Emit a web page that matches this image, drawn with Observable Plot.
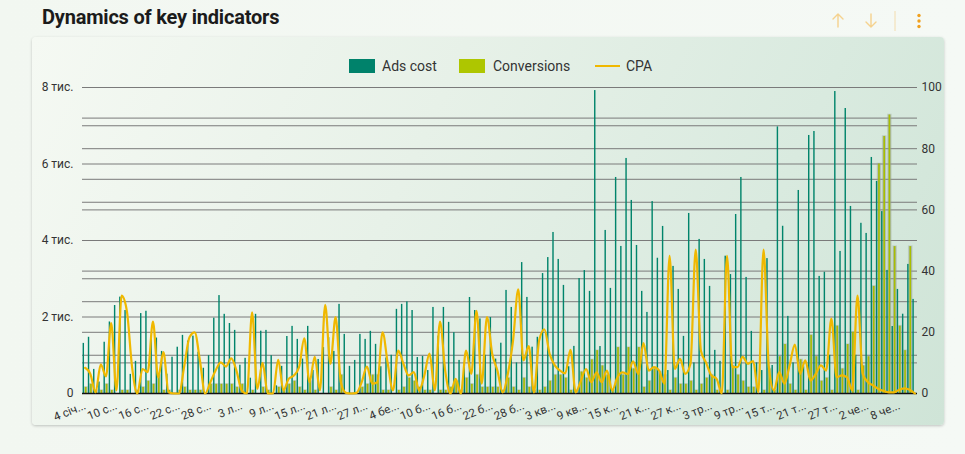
<!DOCTYPE html>
<html><head><meta charset="utf-8">
<script src="https://cdn.jsdelivr.net/npm/d3@7"></script>
<script src="https://cdn.jsdelivr.net/npm/@observablehq/plot@0.6"></script>
<style>
html,body{margin:0;padding:0}
body{width:965px;height:454px;overflow:hidden;position:relative;background:linear-gradient(90deg,#f2f7f1,#f5f9f5);font-family:Roboto,"Noto Sans",sans-serif}
#title{position:absolute;left:42px;top:5px;font-size:20px;font-weight:700;color:#1b1b1b;letter-spacing:-0.2px}
#card{position:absolute;left:32px;top:37px;width:912px;height:388px;border-radius:4px;
 background:linear-gradient(115deg,#f5f9f3 0%,#e7f1e8 40%,#d9eadf 75%,#cfe4d7 100%);
 box-shadow:0 1px 3px rgba(0,0,0,0.22)}
#legend{position:absolute;top:59px;left:0;width:965px;height:16px;font-size:14px;color:#333}
.sw{position:absolute;top:0;width:26px;height:14px}
.lt{position:absolute;top:-2px;line-height:18px}
#chart{position:absolute;left:32px;top:77px}
#icons{position:absolute;left:0;top:0}
</style></head>
<body>
<div id="title">Dynamics of key indicators</div>
<svg id="icons" width="965" height="40">
 <g stroke="#f5d28e" stroke-width="1.4" fill="none" stroke-linecap="round">
  <path d="M838 27 V14 M833 19 L838 14 L843 19"/>
  <path d="M871 14 V27 M866 22 L871 27 L876 22"/>
 </g>
 <line x1="895" y1="11" x2="895" y2="31" stroke="#f3dcae" stroke-width="1"/>
 <g fill="#f0a01e"><circle cx="919" cy="15.5" r="1.7"/><circle cx="919" cy="21" r="1.7"/><circle cx="919" cy="26.5" r="1.7"/></g>
</svg>
<div id="card"></div>
<div id="legend">
 <div class="sw" style="left:349px;background:#00826b"></div><div class="lt" style="left:382px">Ads cost</div>
 <div class="sw" style="left:459px;background:#aec600"></div><div class="lt" style="left:493px">Conversions</div>
 <div style="position:absolute;left:595px;top:6px;width:25px;height:2px;background:#f0b800"></div><div class="lt" style="left:626px">CPA</div>
</div>
<div id="chart"></div>
<script>
// Daily values, 4 Jan .. 11 Jun
const adsCost = [1310,1470,630,300,1340,1870,2300,2520,2170,500,840,2090,2150,1500,1450,1100,505,950,1210,1520,
1370,1500,1080,660,990,1970,2560,2070,1830,1650,740,920,400,2070,1630,1650,990,200,710,1490,
1755,1415,900,1755,600,890,1200,1460,1100,2330,1545,710,865,1545,1415,1625,1285,700,930,1000,
2200,2330,2395,2170,940,970,600,2250,1500,2250,1860,1590,865,800,2510,2170,1950,1000,1986,900,
1315,2695,2250,800,3423,2512,1211,1470,3136,3554,4210,3505,2826,700,1232,3005,3214,2670,7920,1228,
4263,2748,5648,3845,6145,5047,3870,2670,2120,5017,3536,4368,600,3323,2721,1493,4707,800,4028,3505,
2800,1128,840,3590,3110,4680,5648,3035,1624,800,600,3527,732,6970,4372,2016,800,5308,700,6746,
6850,3061,3170,1000,7895,3714,7451,4890,1000,4450,4185,6171,5544,4756,3218,1751,2721,2073,3375,2460];
const conversions = [2,3,1,1,3,1,0,1,1,0,1,2,4,3,6,1,1,0,1,2,
1,1,1,0,3,3,3,3,3,2,3,0,1,0,2,1,0,2,1,3,
4,2,1,4,1,0,0,2,1,6,0,0,0,2,3,6,6,1,1,0,
1,2,5,4,2,1,1,0,1,1,2,4,1,5,3,6,2,2,2,2,
1,5,2,1,5,2,1,1,2,4,6,6,5,1,1,7,5,11,14,9,
6,1,15,6,15,8,15,2,4,8,7,6,1,5,3,3,4,1,3,5,
6,1,0,1,9,6,4,2,2,0,1,8,1,12,16,3,1,11,1,19,
12,4,5,1,22,8,16,20,1,9,12,35,75,84,91,48,22,14,48,0];
const cpa = [8.4,6.4,0.4,9.5,5.6,23,1,32,27,8.6,0,8,7,23.5,5.3,13.5,0.4,0,0,9,
18.4,20,10.8,0,3.7,7.5,10.2,8.8,11.5,7.5,1,0,26.5,1.5,10,0,0,11,1,4.8,
5.9,8.6,18,3.7,12,1,29,9.7,25,3.7,0.2,0,0.2,3.7,8.8,3.2,3.7,20,9.7,1,
14,9.7,5.9,7,1,5.9,13,1,23.5,7.5,0,4.8,0,14,6.4,27,3.2,25,13,7.5,
0.4,6.4,17.3,34,10.8,15.5,0.4,17.3,21,13,9.2,7.5,6.6,14.3,0.4,4.2,8,3.7,6.9,3.7,
7.5,1,5.3,6.9,6.4,10.5,6.4,16.5,7.5,8.6,7.5,3.2,45,8,11.3,6.4,9.7,47,14,10,
5.9,4.8,0,45,8.6,8.6,12,9.7,10.6,0.4,47,9,1,7,3.2,9.2,16,6.4,10.8,4.2,
6.4,9.2,7.5,24.5,5.3,5.9,5.3,1,32,6.4,3.7,2.6,1.5,0.8,0.4,0.4,1.2,1.7,1.2,0];
const xTickLabels = ["4 січ...","10 с...","16 с...","22 с...","28 с...","3 л...","9 л...","15 л...","21 л...","27 л...",
"4 бе...","10 б...","16 б...","22 б...","28 б...","3 кв...","9 кв...","15 к...","21 к...","27 к...",
"3 тр...","9 тр...","15 т...","21 т...","27 т...","2 че...","8 че..."];
const leftTicks = [0,2000,4000,6000,8000];
const leftGrid = [1000,2000,3000,4000,5000,6000,7000,8000];
const rightTicks = [0,20,40,60,80,100];
const rightGrid = [10,20,30,40,50,60,70,80,90,100];

const K = 8000/100; // right axis (0..100) drawn on the shared y scale
const days = d3.utcDay.range(new Date(Date.UTC(2024,0,4)), new Date(Date.UTC(2024,5,12)))
  .map(d => d.toISOString().slice(0,10));
const data = days.map((d,i) => ({day:d, cost:adsCost[i], conv:conversions[i], cpa:cpa[i]}));
const tickDays = xTickLabels.map((t,i) => ({day: days[i*6], label: t}));

const chart = Plot.plot({
  width: 912, height: 348,
  marginLeft: 50, marginRight: 27, marginTop: 10, marginBottom: 32,
  style: {background: "transparent", fontFamily: "Roboto, sans-serif", color: "#333", overflow: "visible"},
  x: {type: "band", domain: days, padding: 0, axis: null},
  y: {domain: [0, 8000]},
  marks: [
    Plot.ruleY(leftGrid, {stroke: "#7a7a7a", strokeWidth: 1}),
    Plot.ruleY(rightGrid, {y: d => d*K, stroke: "#7a7a7a", strokeWidth: 1}),
    Plot.barY(data.filter(d => d.conv > 0), {x: "day", y: d => d.conv*K, fill: "#939e94", fillOpacity: 0.55,
      stroke: "#939e94", strokeOpacity: 0.3, strokeWidth: 1.6, insetLeft: 2.2, insetRight: 0}),
    Plot.barY(data.filter(d => d.conv > 0), {x: "day", y: d => d.conv*K, fill: "#a8be00", insetLeft: 2.9, insetRight: 0.7}),
    Plot.barY(data, {x: "day", y: "cost", fill: "#00846b", insetLeft: 0.6, insetRight: 3.2}),
    Plot.ruleY([0], {stroke: "#111", strokeWidth: 1.5}),
    Plot.line(data, {x: "day", y: d => d.cpa*K, stroke: "#f0b800", strokeWidth: 2.2, curve: "monotone-x"}),
    Plot.axisY({anchor: "left", ticks: leftTicks, tickSize: 0, tickPadding: 9, fontSize: 12, label: null,
      tickFormat: d => d === 0 ? "0" : `${d/1000} тис.`}),
    Plot.axisY({anchor: "right", ticks: rightTicks.map(v => v*K), tickSize: 0, tickPadding: 4, fontSize: 12, label: null,
      tickFormat: d => `${Math.round(d/K)}`}),
    Plot.text(tickDays, {x: "day", text: "label", frameAnchor: "bottom", dy: 15, dx: 1.5, rotate: -22,
      textAnchor: "end", fontSize: 11.5, fill: "#333"})
  ]
});
document.getElementById("chart").appendChild(chart);
</script>
</body></html>
